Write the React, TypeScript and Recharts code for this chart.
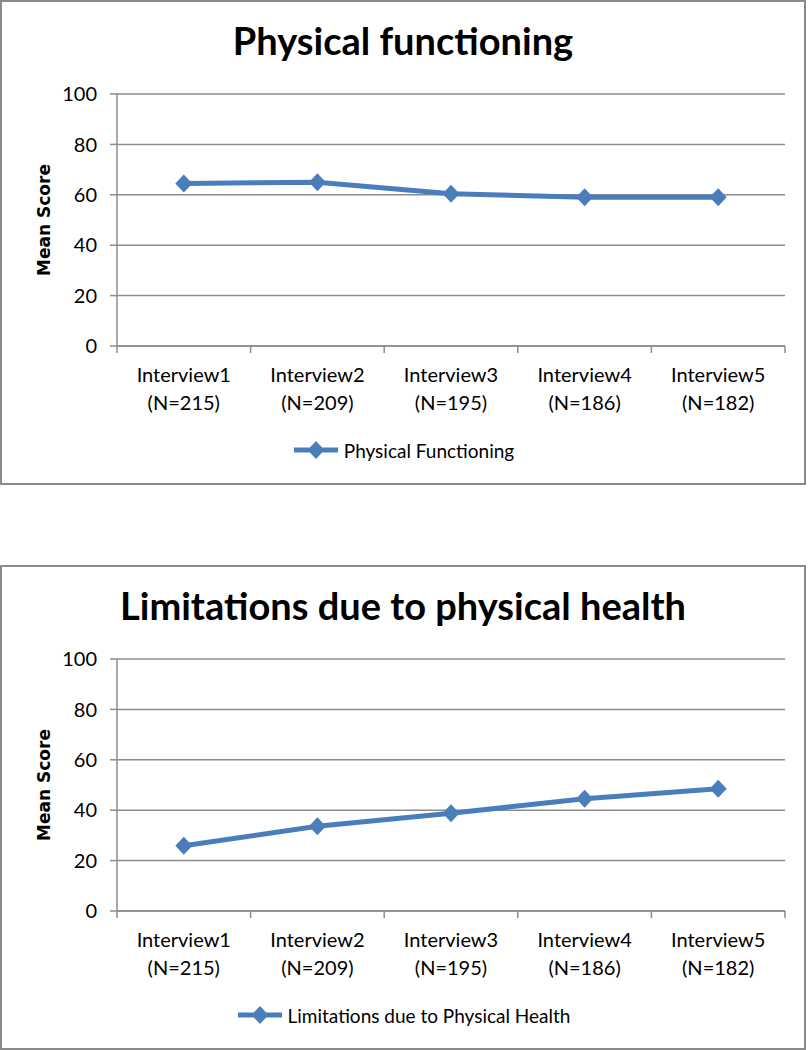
import { CartesianGrid, Line, LineChart, XAxis, YAxis } from "recharts";

const categories = ["Interview1", "Interview2", "Interview3", "Interview4", "Interview5"];
const sampleSizes = ["(N=215)", "(N=209)", "(N=195)", "(N=186)", "(N=182)"];
const physicalFunctioning = [64.5, 65.0, 60.4, 59.0, 59.0];
const limitationsPhysicalHealth = [25.9, 33.6, 38.8, 44.5, 48.5];
const yTicks = [0, 20, 40, 60, 80, 100];

const BLUE = "#4a7ebb";
const GRID = "#8c8c8c";
const FONT = "Lato, 'Open Sans', sans-serif";

const W = 806;
const H = 484;
const PLOT_LEFT = 117;
const PLOT_RIGHT = 785;
const PLOT_TOP = 94;
const PLOT_BOTTOM = 346;
const X_AXIS_H = 80;
const BAND = (PLOT_RIGHT - PLOT_LEFT) / categories.length;

function Diamond(props: any) {
  const { cx, cy, index } = props;
  if (cx == null || cy == null) return null;
  return (
    <path
      key={`dot-${index}`}
      d={`M${cx},${cy - 9} L${cx + 8.5},${cy} L${cx},${cy + 9} L${cx - 8.5},${cy} Z`}
      fill={BLUE}
    />
  );
}

function XTick({ x, y, payload, index }: any) {
  const left = x - BAND / 2;
  return (
    <g>
      <line x1={left} y1={y} x2={left} y2={y + 7} stroke={GRID} strokeWidth={1.5} />
      {index === categories.length - 1 && (
        <line x1={left + BAND} y1={y} x2={left + BAND} y2={y + 7} stroke={GRID} strokeWidth={1.5} />
      )}
      <text x={x} y={y + 36} textAnchor="middle" fill="#000" fontSize={20} fontFamily={FONT}>
        {payload.value}
      </text>
      <text x={x} y={y + 64} textAnchor="middle" fill="#000" fontSize={20} fontFamily={FONT}>
        {sampleSizes[index]}
      </text>
    </g>
  );
}

function YLabel({ viewBox }: any) {
  const cy = viewBox ? viewBox.y + viewBox.height / 2 : 220;
  return (
    <text
      x={44}
      y={cy}
      transform={`rotate(-90, 44, ${cy})`}
      textAnchor="middle"
      dominantBaseline="central"
      fontFamily="'DejaVu Sans', sans-serif"
      fontWeight="bold"
      fontSize={17}
      fill="#000"
    >
      Mean Score
    </text>
  );
}

function ScoreChart({ top, title, seriesName, values }: { top: number; title: string; seriesName: string; values: number[] }) {
  const data = categories.map((c, i) => ({ name: c, value: values[i] }));
  return (
    <div style={{ position: "absolute", left: 0, top, width: W, height: H }}>
      <div
        style={{
          position: "absolute",
          left: 0,
          top: 0,
          width: W,
          height: H + 1,
          boxSizing: "border-box",
          border: "2px solid #8a8a8a",
        }}
      />
      <div
        style={{
          position: "absolute",
          left: 0,
          top: 17,
          width: W,
          textAlign: "center",
          fontFamily: FONT,
          fontWeight: "bold",
          fontSize: 38,
          lineHeight: "46px",
          color: "#000",
        }}
      >
        {title}
      </div>
      <div style={{ position: "absolute", left: 0, top: 0 }}>
        <LineChart
          width={W}
          height={H}
          data={data}
          margin={{ top: PLOT_TOP, right: W - PLOT_RIGHT, left: 0, bottom: H - PLOT_BOTTOM - X_AXIS_H }}
        >
          <CartesianGrid vertical={false} stroke={GRID} strokeWidth={1.5} />
          <XAxis
            dataKey="name"
            height={X_AXIS_H}
            padding={{ left: BAND / 2, right: BAND / 2 }}
            axisLine={{ stroke: GRID, strokeWidth: 1.5 }}
            tickLine={false}
            tickSize={0}
            tickMargin={0}
            interval={0}
            tick={<XTick />}
          />
          <YAxis
            width={PLOT_LEFT}
            domain={[0, 100]}
            ticks={yTicks}
            interval={0}
            axisLine={{ stroke: GRID, strokeWidth: 1.5 }}
            tickLine={{ stroke: GRID, strokeWidth: 1.5 }}
            tickSize={7}
            tickMargin={13}
            tick={{ fill: "#000", fontSize: 20, fontFamily: FONT }}
            label={<YLabel />}
          />
          <Line
            type="linear"
            dataKey="value"
            name={seriesName}
            stroke={BLUE}
            strokeWidth={5}
            dot={<Diamond />}
            activeDot={false}
            isAnimationActive={false}
          />
        </LineChart>
      </div>
      <div
        style={{
          position: "absolute",
          left: 0,
          top: 437,
          width: W,
          height: 26,
          display: "flex",
          justifyContent: "center",
          alignItems: "center",
          fontFamily: FONT,
          fontSize: 19,
          color: "#000",
        }}
      >
        <svg width={48} height={20} style={{ marginRight: 4 }}>
          <line x1={2} y1={10} x2={46} y2={10} stroke={BLUE} strokeWidth={5} />
          <path d="M24,1 L32.5,10 L24,19 L15.5,10 Z" fill={BLUE} />
        </svg>
        <span>{seriesName}</span>
      </div>
    </div>
  );
}

export default function App() {
  return (
    <div style={{ position: "absolute", left: 0, top: 0, width: 808, height: 1050, background: "#fff" }}>
      <ScoreChart top={0} title="Physical functioning" seriesName="Physical Functioning" values={physicalFunctioning} />
      <ScoreChart
        top={565}
        title="Limitations due to physical health"
        seriesName="Limitations due to Physical Health"
        values={limitationsPhysicalHealth}
      />
    </div>
  );
}
